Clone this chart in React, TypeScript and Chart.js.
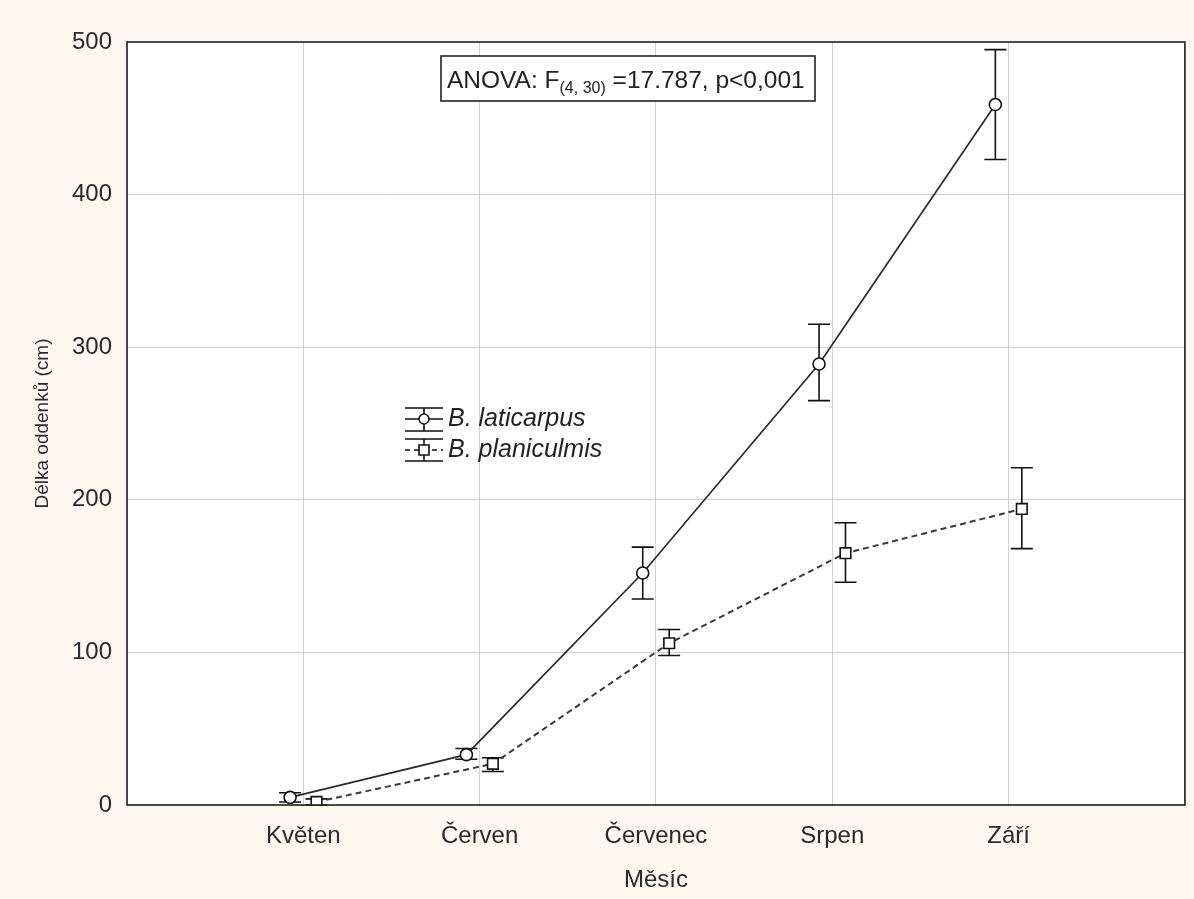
import React, { useEffect, useRef } from 'react';
import { Chart, registerables } from 'chart.js';

Chart.register(...registerables);

const months = ['Květen', 'Červen', 'Červenec', 'Srpen', 'Září'];
const yTicks = [0, 100, 200, 300, 400, 500];

const laticarpusMean = [5, 33, 152, 289, 459];
const laticarpusLow = [2, 30, 135, 265, 423];
const laticarpusHigh = [8, 37, 169, 315, 495];

const planiculmisMean = [2, 27, 106, 165, 194];
const planiculmisLow = [0, 22, 98, 146, 168];
const planiculmisHigh = [4, 31, 115, 185, 221];

const seriesNames = ['B. laticarpus', 'B. planiculmis'];
const OFFSET = 0.075;

const FONT = "'Liberation Sans', Arial, sans-serif";
const CREAM = '#fdf9f0';

export default function App() {
  const ref = useRef<HTMLCanvasElement | null>(null);

  useEffect(() => {
    const canvas = ref.current;
    if (!canvas) return;

    const background = {
      id: 'bg',
      beforeDraw(chart: any) {
        const { ctx, chartArea } = chart;
        ctx.save();
        ctx.fillStyle = CREAM;
        ctx.fillRect(0, 0, chart.width, chart.height);
        ctx.fillStyle = '#ffffff';
        ctx.fillRect(chartArea.left, chartArea.top, chartArea.right - chartArea.left, chartArea.bottom - chartArea.top);
        ctx.restore();
      },
    };

    const errorBars = {
      id: 'errorBars',
      beforeDatasetsDraw(chart: any) {
        const { ctx, scales } = chart;
        const xs = scales.x;
        const ys = scales.y;
        const groups = [
          { lo: laticarpusLow, hi: laticarpusHigh, off: -OFFSET },
          { lo: planiculmisLow, hi: planiculmisHigh, off: OFFSET },
        ];
        ctx.save();
        ctx.strokeStyle = '#111';
        ctx.lineWidth = 1.6;
        groups.forEach((g) => {
          months.forEach((_, i) => {
            const x = xs.getPixelForValue(i + g.off);
            const y1 = ys.getPixelForValue(g.lo[i]);
            const y2 = ys.getPixelForValue(g.hi[i]);
            const cap = 11;
            ctx.beginPath();
            ctx.moveTo(x, y1);
            ctx.lineTo(x, y2);
            ctx.moveTo(x - cap, y1);
            ctx.lineTo(x + cap, y1);
            ctx.moveTo(x - cap, y2);
            ctx.lineTo(x + cap, y2);
            ctx.stroke();
          });
        });
        ctx.restore();
      },
    };

    const frame = {
      id: 'frame',
      afterDraw(chart: any) {
        const { ctx, chartArea } = chart;
        ctx.save();
        ctx.strokeStyle = '#222';
        ctx.lineWidth = 1.6;
        ctx.strokeRect(chartArea.left, chartArea.top, chartArea.right - chartArea.left, chartArea.bottom - chartArea.top);

        // ANOVA annotation box
        const bx = 441, by = 56, bw = 374, bh = 45;
        ctx.fillStyle = '#ffffff';
        ctx.fillRect(bx, by, bw, bh);
        ctx.strokeStyle = '#222';
        ctx.lineWidth = 1.6;
        ctx.strokeRect(bx, by, bw, bh);
        ctx.fillStyle = '#222';
        ctx.textBaseline = 'alphabetic';
        ctx.textAlign = 'left';
        let tx = bx + 6;
        const base = by + 32;
        ctx.font = `24.5px ${FONT}`;
        const p1 = 'ANOVA: F';
        ctx.fillText(p1, tx, base);
        tx += ctx.measureText(p1).width;
        ctx.font = `16px ${FONT}`;
        const sub = '(4, 30)';
        ctx.fillText(sub, tx, base + 5);
        tx += ctx.measureText(sub).width;
        ctx.font = `24.5px ${FONT}`;
        ctx.fillText(' =17.787, p<0,001', tx, base);

        // Legend
        const lx = 405, lw = 38;
        const entries = [
          { cy: 419, top: 408, bot: 431, dash: [] as number[], shape: 'circle' },
          { cy: 450, top: 439, bot: 461, dash: [5, 4], shape: 'rect' },
        ];
        entries.forEach((e, k) => {
          ctx.strokeStyle = '#111';
          ctx.lineWidth = 1.6;
          ctx.setLineDash([]);
          ctx.beginPath();
          ctx.moveTo(lx, e.top);
          ctx.lineTo(lx + lw, e.top);
          ctx.moveTo(lx, e.bot);
          ctx.lineTo(lx + lw, e.bot);
          ctx.moveTo(lx + lw / 2, e.top);
          ctx.lineTo(lx + lw / 2, e.bot);
          ctx.stroke();
          ctx.setLineDash(e.dash);
          ctx.beginPath();
          ctx.moveTo(lx, e.cy);
          ctx.lineTo(lx + lw, e.cy);
          ctx.stroke();
          ctx.setLineDash([]);
          ctx.fillStyle = '#fff';
          ctx.beginPath();
          if (e.shape === 'circle') {
            ctx.arc(lx + lw / 2, e.cy, 5, 0, Math.PI * 2);
          } else {
            ctx.rect(lx + lw / 2 - 5, e.cy - 5, 10, 10);
          }
          ctx.fill();
          ctx.stroke();
          ctx.fillStyle = '#222';
          ctx.font = `italic 25px ${FONT}`;
          ctx.textBaseline = 'middle';
          ctx.fillText(seriesNames[k], lx + lw + 5, e.cy);
        });
        ctx.restore();
      },
    };

    const chart = new Chart(canvas, {
      type: 'line',
      data: {
        datasets: [
          {
            label: seriesNames[0],
            data: months.map((_, i) => ({ x: i - OFFSET, y: laticarpusMean[i] })),
            borderColor: '#2b2b2b',
            borderWidth: 1.7,
            pointStyle: 'circle',
            pointRadius: 6,
            pointBackgroundColor: '#ffffff',
            pointBorderColor: '#111',
            pointBorderWidth: 1.6,
            tension: 0,
          },
          {
            label: seriesNames[1],
            data: months.map((_, i) => ({ x: i + OFFSET, y: planiculmisMean[i] })),
            borderColor: '#3a3a3a',
            borderWidth: 2,
            borderDash: [6, 4],
            pointStyle: 'rect',
            pointRadius: 7.5,
            pointBackgroundColor: '#ffffff',
            pointBorderColor: '#111',
            pointBorderWidth: 1.6,
            tension: 0,
          },
        ],
      },
      options: {
        responsive: false,
        animation: false,
        events: [],
        layout: { padding: { top: 42, right: 3, left: 0, bottom: 0 } },
        plugins: {
          legend: { display: false },
          tooltip: { enabled: false },
        },
        scales: {
          x: {
            type: 'linear',
            min: -1,
            max: 5,
            afterBuildTicks: (scale: any) => {
              scale.ticks = [-1, 0, 1, 2, 3, 4, 5].map((v) => ({ value: v }));
            },
            afterFit: (scale: any) => {
              scale.height = 94;
              scale.paddingLeft = 0;
              scale.paddingRight = 0;
            },
            ticks: {
              callback: (v: any) => (months[v as number] !== undefined ? months[v as number] : ''),
              font: { family: FONT, size: 24 },
              color: '#2a2a2a',
              padding: 17,
              maxRotation: 0,
              autoSkip: false,
            },
            grid: { color: '#d2d2d2', lineWidth: 1, drawTicks: false },
            border: { display: false },
            title: {
              display: true,
              text: 'Měsíc',
              font: { family: FONT, size: 24 },
              color: '#2a2a2a',
              padding: { top: 0, bottom: 4 },
            },
          },
          y: {
            type: 'linear',
            min: 0,
            max: 500,
            afterBuildTicks: (scale: any) => {
              scale.ticks = yTicks.map((v) => ({ value: v }));
            },
            afterFit: (scale: any) => {
              scale.width = 127;
            },
            ticks: {
              font: { family: FONT, size: 24 },
              color: '#2a2a2a',
              padding: 15,
            },
            grid: { color: '#d2d2d2', lineWidth: 1, drawTicks: false },
            border: { display: false },
            title: {
              display: true,
              text: 'Délka oddenků (cm)',
              font: { family: FONT, size: 19 },
              color: '#2a2a2a',
              padding: { top: 31, bottom: 0 },
            },
          },
        },
      },
      plugins: [background, errorBars, frame],
    });

    return () => chart.destroy();
  }, []);

  return (
    <div style={{ position: 'fixed', left: 0, top: 0, width: 1194, height: 899, background: CREAM }}>
      <canvas ref={ref} width={1194} height={899} style={{ display: 'block', width: 1194, height: 899 }} />
    </div>
  );
}
